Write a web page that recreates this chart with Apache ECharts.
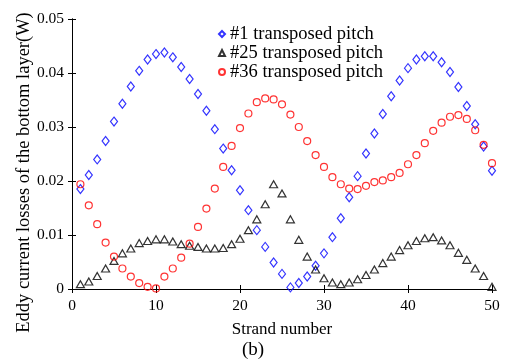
<!DOCTYPE html>
<html>
<head>
<meta charset="utf-8">
<script src="https://cdn.jsdelivr.net/npm/echarts@6/dist/echarts.min.js"></script>
<style>
  html, body { margin: 0; padding: 0; background: #fff; }
  #chart { width: 509px; height: 363px; }
</style>
</head>
<body>
<div id="chart"></div>
<script>
// Strand index 1..50
const strands = Array.from({ length: 50 }, (_, i) => i + 1);

// Eddy current losses (W) per strand, bottom layer
const pitch1 = [
  0.0185, 0.0211, 0.0240, 0.0274, 0.0310, 0.0343, 0.0375, 0.0404, 0.0425, 0.0435,
  0.0438, 0.0429, 0.0411, 0.0389, 0.0361, 0.0330, 0.0296, 0.0260, 0.0220, 0.0183,
  0.0146, 0.0109, 0.0078, 0.0049, 0.0028, 0.0003, 0.0011, 0.0023, 0.0043, 0.0066,
  0.0096, 0.0131, 0.0170, 0.0209, 0.0251, 0.0288, 0.0324, 0.0357, 0.0386, 0.0409,
  0.0425, 0.0431, 0.0431, 0.0420, 0.0402, 0.0374, 0.0339, 0.0305, 0.0264, 0.0219
];
const pitch25 = [
  0.0009, 0.0014, 0.0024, 0.0038, 0.0052, 0.0066, 0.0075, 0.0085, 0.0089, 0.0092,
  0.0092, 0.0088, 0.0083, 0.0080, 0.0078, 0.0075, 0.0075, 0.0076, 0.0083, 0.0093,
  0.0109, 0.0129, 0.0157, 0.0194, 0.0177, 0.0129, 0.0091, 0.0060, 0.0036, 0.0020,
  0.0012, 0.0009, 0.0012, 0.0018, 0.0026, 0.0036, 0.0048, 0.0060, 0.0072, 0.0081,
  0.0089, 0.0094, 0.0096, 0.0090, 0.0081, 0.0067, 0.0054, 0.0038, 0.0024, 0.0004
];
const pitch36 = [
  0.0194, 0.0155, 0.0120, 0.0086, 0.0060, 0.0038, 0.0023, 0.0011, 0.0004, 0.0001,
  0.0023, 0.0038, 0.0058, 0.0084, 0.0115, 0.0149, 0.0186, 0.0226, 0.0265, 0.0298,
  0.0325, 0.0346, 0.0353, 0.0351, 0.0342, 0.0323, 0.0300, 0.0274, 0.0248, 0.0226,
  0.0207, 0.0194, 0.0186, 0.0185, 0.0191, 0.0198, 0.0201, 0.0207, 0.0215, 0.0231,
  0.0248, 0.0270, 0.0293, 0.0308, 0.0319, 0.0322, 0.0315, 0.0294, 0.0267, 0.0233
];

const seriesNames = ['#1 transposed pitch', '#25 transposed pitch', '#36 transposed pitch'];
const xTicks = [0, 10, 20, 30, 40, 50];
const yTicks = [0, 0.01, 0.02, 0.03, 0.04, 0.05];

const FONT = 'Liberation Serif';

const pairs = (ys) => strands.map((s, i) => [s, ys[i]]);

// Boxed frame: all four sides carry inward ticks
const frameAxis = {
  axisLine: { show: true, lineStyle: { color: '#000', width: 1 } },
  axisTick: { show: true, inside: true, length: 4, lineStyle: { color: '#000' } },
  splitLine: { show: false }
};

const chart = echarts.init(document.getElementById('chart'));
chart.setOption({
  animation: false,
  backgroundColor: '#fff',
  grid: { left: 72, right: 17, top: 19, bottom: 74 },
  legend: {
    orient: 'vertical',
    left: 216.5,
    top: 24.5,
    padding: 0,
    itemWidth: 6,
    itemHeight: 6,
    itemGap: 0,
    textStyle: { fontFamily: FONT, fontSize: 18.5, lineHeight: 17.5, color: '#000' },
    data: seriesNames
  },
  xAxis: [
    Object.assign({
      type: 'value', min: xTicks[0], max: xTicks[xTicks.length - 1], interval: 10,
      name: 'Strand number', nameLocation: 'middle', nameGap: 32, nameMoveOverlap: false,
      nameTextStyle: { fontFamily: FONT, fontSize: 17, color: '#000' },
      axisLabel: { fontFamily: FONT, fontSize: 15.5, color: '#000', margin: 9 }
    }, frameAxis),
    Object.assign({
      type: 'value', position: 'top', min: 0, max: 50, interval: 10,
      axisLabel: { show: false }
    }, frameAxis)
  ],
  yAxis: [
    Object.assign({
      type: 'value', min: yTicks[0], max: yTicks[yTicks.length - 1], interval: 0.01,
      name: 'Eddy current losses of the bottom layer(W)', nameLocation: 'middle', nameGap: 38,
      nameMoveOverlap: false,
      nameTextStyle: { fontFamily: FONT, fontSize: 18.5, color: '#000', padding: [0, 37, 0, 0] },
      axisLabel: {
        fontFamily: FONT, fontSize: 15.5, color: '#000', margin: 8,
        formatter: (v) => (v === 0 ? '0' : v.toFixed(2))
      }
    }, frameAxis),
    Object.assign({
      type: 'value', position: 'right', min: 0, max: 0.05, interval: 0.01,
      axisLabel: { show: false }
    }, frameAxis)
  ],
  graphic: [{
    type: 'text', left: 242, top: 341,
    style: { text: '(b)', font: '19px "Liberation Serif"', fill: '#000' }
  }],
  series: [
    {
      name: seriesNames[0], type: 'scatter', data: pairs(pitch1),
      symbol: 'diamond', symbolSize: [7, 9],
      itemStyle: { color: 'none', borderColor: '#0000ff', borderWidth: 1.2 }
    },
    {
      name: seriesNames[1], type: 'scatter', data: pairs(pitch25),
      symbol: 'triangle', symbolSize: [8, 7],
      itemStyle: { color: 'none', borderColor: '#000000', borderWidth: 1.2 }
    },
    {
      name: seriesNames[2], type: 'scatter', data: pairs(pitch36),
      symbol: 'circle', symbolSize: 7,
      itemStyle: { color: 'none', borderColor: '#ff0000', borderWidth: 1.2 }
    }
  ]
});
</script>
</body>
</html>
